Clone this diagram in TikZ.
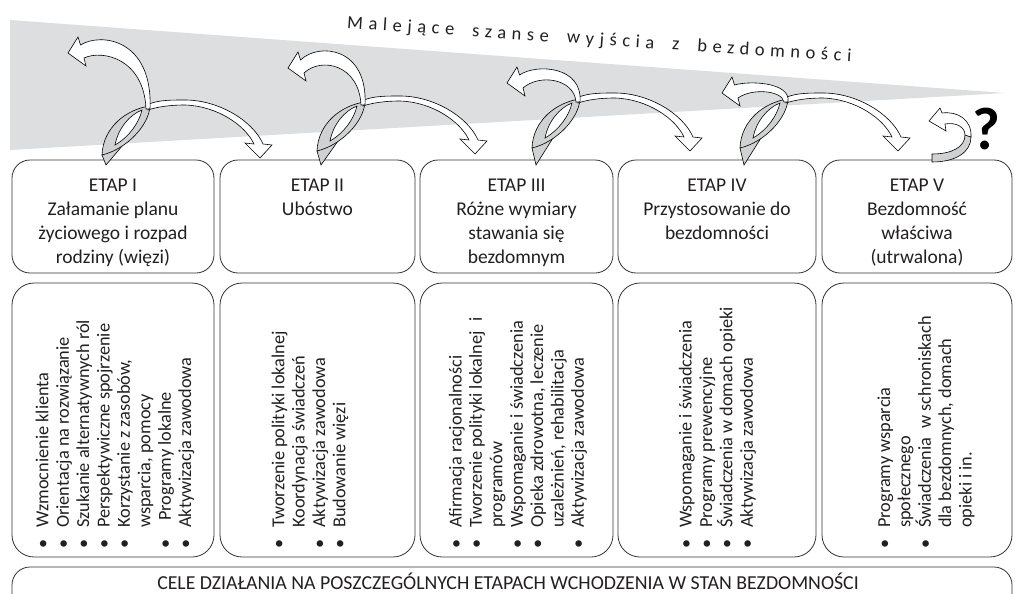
\documentclass[tikz,border=0pt]{standalone}
\usepackage{fontspec}
\setmainfont{Carlito}
\usetikzlibrary{positioning}

\definecolor{wedge}{RGB}{221,222,224}
\definecolor{ribbon}{RGB}{208,209,211}
\definecolor{ink}{RGB}{35,31,32}
\definecolor{boxline}{RGB}{50,50,50}

\newcommand{\bul}{\makebox[21pt][l]{\textbullet}}
\newcommand{\nobul}{\hspace*{21pt}}
\newcommand{\wgap}{\hspace{18pt}}

\tikzset{
  stagebox/.style={draw=boxline, line width=.8pt, rounded corners=18pt, minimum height=113pt, inner sep=0pt},
  stagetext/.style={align=center, text=ink, inner sep=0pt, font=\fontsize{19.5}{24}\selectfont},
  goalbox/.style={draw=boxline, line width=.8pt, rounded corners=22pt, minimum height=274pt, inner sep=0pt},
  goaltext/.style={rotate=90, anchor=west, align=left, text=ink, inner sep=0pt, font=\fontsize{18.3}{20.4}\selectfont},
  ribbonfront/.style={draw=black, line width=.6pt, fill=white},
  ribbonback/.style={draw=black, line width=.6pt, fill=ribbon},
}

\begin{document}
\begin{tikzpicture}[x=1pt,y=-1pt]
\useasboundingbox (0,0) rectangle (1017,594);

% malejace szanse
\fill[wedge] (10,20) -- (1005,93) -- (10,150) -- cycle;
\node[rotate=-3.8, anchor=base, text=ink, font=\fontsize{18.5}{20}\selectfont\addfontfeature{LetterSpace=30}] (title) at (599,45) {Malejące\wgap szanse\wgap wyjścia\wgap z\wgap bezdomności};

% etapy i cele
\foreach \l/\r/\n in {12/214/1,220/415/2,420/613/3,618/816/4,822/1012/5}{
  \node[stagebox, minimum width=\r-\l] (etap\n) at ({(\l+\r)/2},216.5) {};
  \node[goalbox, minimum width=\r-\l] (cel\n) at ({(\l+\r)/2},420) {};
}
\node[stagetext, below=19pt of etap1.north] (t1) {ETAP I\\Załamanie planu\\życiowego i rozpad\\rodziny (więzi)};
\node[stagetext, below=19pt of etap2.north] (t2) {ETAP II\\Ubóstwo};
\node[stagetext, below=19pt of etap3.north] (t3) {ETAP III\\Różne wymiary\\stawania się\\bezdomnym};
\node[stagetext, below=19pt of etap4.north] (t4) {ETAP IV\\Przystosowanie do\\bezdomności};
\node[stagetext, below=19pt of etap5.north] (t5) {ETAP V\\Bezdomność\\właściwa\\(utrwalona)};

\node[goaltext] (g1) at (115,549) {\bul Wzmocnienie klienta\\\bul Orientacja na rozwiązanie\\\bul Szukanie alternatywnych ról\\\bul Perspektywiczne spojrzenie\\\bul Korzystanie z zasobów,\\\nobul wsparcia, pomocy\\\bul\hspace{7pt}Programy lokalne\\\bul Aktywizacja zawodowa};
\node[goaltext] (g2) at (310,549) {\bul Tworzenie polityki lokalnej\\\nobul Koordynacja świadczeń\\\bul Aktywizacja zawodowa\\\bul Budowanie więzi};
\node[goaltext] (g3) at (518,549) {\bul Afirmacja racjonalności\\\bul Tworzenie polityki lokalnej\hspace{10pt}i\\\nobul programów\\\bul Wspomaganie i świadczenia\\\bul Opieka zdrowotna, leczenie\\\nobul uzależnień, rehabilitacja\\\bul Aktywizacja zawodowa};
\node[goaltext] (g4) at (717.5,549) {\bul Wspomaganie i świadczenia\\\bul Programy prewencyjne\\\bul Świadczenia w domach opieki\\\bul Aktywizacja zawodowa};
\node[goaltext] (g5) at (926,549) {\bul Programy wsparcia\\\nobul społecznego\\\bul Świadczenia\hspace{5pt} w schroniskach\\\nobul dla bezdomnych, domach\\\nobul opieki i in.};

\draw[boxline, line width=.8pt, rounded corners=18pt] (12,610) -- (12,567) -- (1012,567) -- (1012,610);
\node[text=ink, inner sep=0pt, font=\fontsize{19.8}{21}\selectfont] (cele) at (508,581) {CELE DZIAŁANIA NA POSZCZEGÓLNYCH ETAPACH WCHODZENIA W STAN BEZDOMNOŚCI};

% wstegi: petla, strzalka w przod, strzalka w tyl
\foreach \cx/\cy/\w/\h/\ty in {147/107/79/65/-54,362/103/74/53/-35,577/100/70/32/-17,785/100/63/17/-7}{
  \filldraw[ribbonback] (\cx-45,\cy+48) -- (\cx-41,165) -- (\cx-24,\cy+38) -- cycle;
  \filldraw[ribbonback] (\cx-45,\cy+48) .. controls (\cx-44,\cy+20) and (\cx-20,\cy+2) .. (\cx+3,\cy-1)
     .. controls (\cx+2,\cy+18) and (\cx-20,\cy+42) .. (\cx-45,\cy+48) -- cycle;
  \filldraw[ribbonfront] (\cx-32,\cy+38) .. controls (\cx-29,\cy+22) and (\cx-18,\cy+8) .. (\cx-5,\cy+3)
     .. controls (\cx-8,\cy+16) and (\cx-18,\cy+30) .. (\cx-32,\cy+38) -- cycle;
  \filldraw[ribbonfront] (\cx+2,\cy-3) .. controls (\cx+12,\cy-7) and (\cx+24,\cy-7) .. (\cx+38,\cy-7)
     .. controls (\cx+72,\cy-7) and (\cx+106,\cy+14) .. (\cx+116,\cy+37) -- (\cx+125,\cy+38) -- (\cx+113,\cy+51)
     -- (\cx+98,\cy+36) -- (\cx+107,\cy+37) .. controls (\cx+98,\cy+18) and (\cx+70,\cy-1) .. (\cx+38,\cy-2)
     .. controls (\cx+22,\cy-2) and (\cx+10,\cy) .. (\cx+1,\cy+3) -- cycle;
  \filldraw[ribbonfront] (\cx+3,\cy+2) .. controls (\cx+6,\cy-1.05*\h) and (\cx-0.7*\w+8.75,\cy-1.15*\h) .. (\cx-\w+12.5,\cy+\ty-8)
     -- (\cx-\w+10,\cy+\ty-16) -- (\cx-\w,\cy+\ty) -- (\cx-\w+18,\cy+\ty+13) -- (\cx-\w+16,\cy+\ty+5)
     .. controls (\cx-0.7*\w+11.2,\cy-0.95*\h+4) and (\cx-3,\cy-0.8*\h+4) .. (\cx-1,\cy+2) -- cycle;
}

% etap V
\filldraw[ribbonback] (932,154) .. controls (952,154) and (965,147) .. (965,135) -- (971,137) .. controls (971,152) and (956,162) .. (932,162) -- cycle;
\filldraw[ribbonfront] (971,137) .. controls (972,120) and (958,111) .. (942,113) -- (940,108) -- (929,121) -- (946,131) -- (945,124) .. controls (956,122) and (965,127) .. (965,135) -- cycle;
\node[text=black, font=\fontsize{60}{60}\selectfont\bfseries] (q) at (986,129) {?};
\end{tikzpicture}
\end{document}
